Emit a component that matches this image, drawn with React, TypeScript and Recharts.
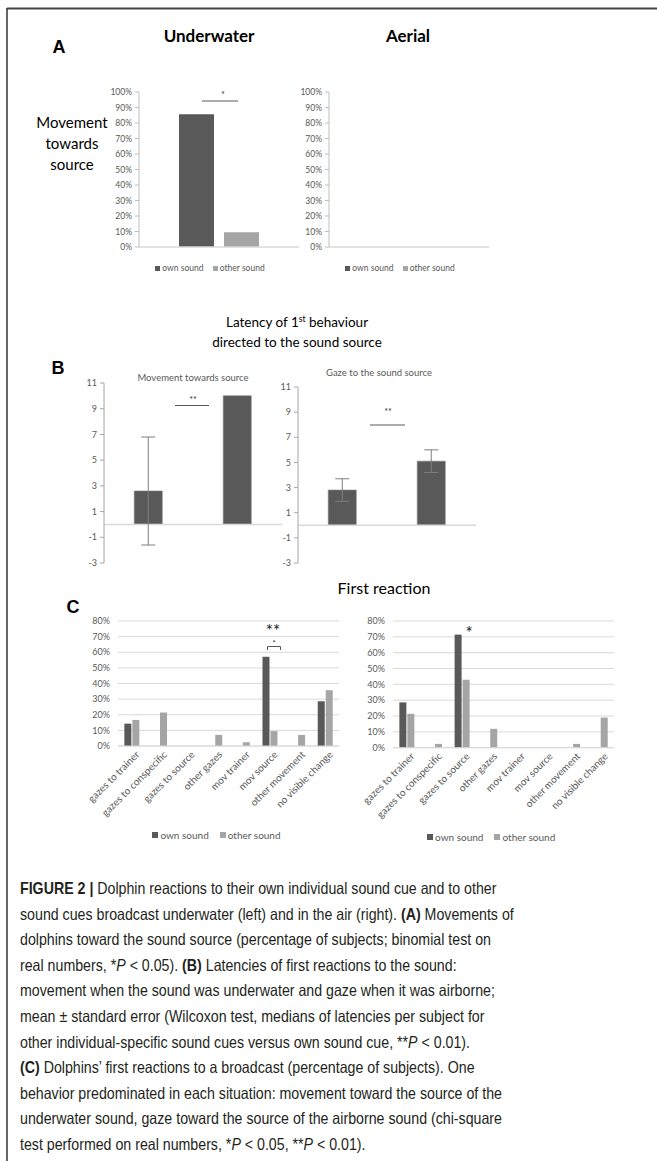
import React from 'react';
import {
  BarChart,
  Bar,
  XAxis,
  YAxis,
  CartesianGrid,
  ReferenceLine,
  ErrorBar,
  Legend,
} from 'recharts';

// series shared by panels A and C
const soundSeries = ['own sound', 'other sound'];

// Panel A: movement towards source (% of subjects)
const movementUnderwater = [85.7, 9.5];
const movementAerial = [0, 0];
const percentTicksA = [0, 10, 20, 30, 40, 50, 60, 70, 80, 90, 100];

// Panel B: latency of 1st behaviour, mean and standard error
const latencyGroups = ['own', 'other'];
const movementLatency = [2.6, 10.0];
const movementLatencyErr = [4.2, 0];
const gazeLatency = [2.8, 5.1];
const gazeLatencyErr = [0.9, 0.9];
const latencyTicks = [-3, -1, 1, 3, 5, 7, 9, 11];

// Panel C: first reaction (% of subjects)
const reactions = [
  'gazes to trainer',
  'gazes to conspecific',
  'gazes to source',
  'other gazes',
  'mov trainer',
  'mov source',
  'other movement',
  'no visible change',
];
const underwaterOwn = [14.3, 0, 0, 0, 0, 57.1, 0, 28.6];
const underwaterOther = [16.7, 21.4, 0, 7.1, 2.4, 9.5, 7.1, 35.7];
const aerialOwn = [28.6, 0, 71.4, 0, 0, 0, 0, 0];
const aerialOther = [21.4, 2.4, 42.9, 11.9, 0, 0, 2.4, 19.0];
const percentTicksC = [0, 10, 20, 30, 40, 50, 60, 70, 80];

const DARK = '#595959';
const LIGHT = '#a5a5a5';
const TEXT = '#595959';
const CHART_FONT = 'Lato, "Open Sans", sans-serif';

const pct = (v: number) => `${v}%`;

// legend like Excel's: small square + name, centred, in series order
const SoundLegend = ({ payload, fontSize, box }: any) => {
  const items = [...(payload || [])].sort(
    (a: any, b: any) => soundSeries.indexOf(a.value) - soundSeries.indexOf(b.value)
  );
  return (
    <div
      style={{
        display: 'flex',
        justifyContent: 'center',
        gap: fontSize * 1.1,
        fontSize,
        color: TEXT,
        fontFamily: CHART_FONT,
        lineHeight: 1,
      }}
    >
      {items.map((p: any) => (
        <span key={p.value} style={{ display: 'flex', alignItems: 'center' }}>
          <span
            style={{ width: box, height: box, background: p.color, marginRight: 2, display: 'inline-block' }}
          />
          {p.value}
        </span>
      ))}
    </div>
  );
};

const MovementChart = ({ values, left, top }: { values: number[]; left: number; top: number }) => {
  const data = [{ name: 'movement', own: values[0], other: values[1] }];
  return (
    <div style={{ position: 'absolute', left, top }}>
      <BarChart
        width={220}
        height={200}
        data={data}
        margin={{ top: 12, right: 10, left: 0, bottom: 33 }}
        barCategoryGap="25%"
        barGap={10}
      >
        <XAxis dataKey="name" hide />
        <YAxis
          domain={[0, 100]}
          ticks={percentTicksA}
          interval={0}
          tickFormatter={pct}
          width={50}
          axisLine={{ stroke: '#bfbfbf' }}
          tickLine={{ stroke: '#bfbfbf' }}
          tickSize={4}
          tickMargin={3}
          tick={{ fontSize: 8.5, fill: TEXT, fontFamily: CHART_FONT }}
        />
        <ReferenceLine y={0} stroke="#d9d9d9" strokeWidth={1.5} />
        <Bar dataKey="own" name={soundSeries[0]} fill={DARK} isAnimationActive={false} />
        <Bar dataKey="other" name={soundSeries[1]} fill={LIGHT} isAnimationActive={false} />
        <Legend
          verticalAlign="middle"
          wrapperStyle={{ top: 184, left: 11, width: 220 }}
          content={(p: any) => <SoundLegend payload={p.payload} fontSize={8.5} box={5} />}
        />
      </BarChart>
    </div>
  );
};

// category labels sit just under the zero line, not at the bottom of the axis
const GroupTick = ({ x, y, payload }: any) => (
  <text
    x={x}
    y={y - 25}
    textAnchor="middle"
    dominantBaseline="central"
    fontSize={9}
    fill={TEXT}
    fontFamily={CHART_FONT}
  >
    {payload.value}
  </text>
);

const LatencyChart = ({
  values,
  errs,
  left,
  top,
  height,
}: {
  values: number[];
  errs: number[];
  left: number;
  top: number;
  height: number;
}) => {
  const data = latencyGroups.map((g, i) => ({ name: g, value: values[i], err: errs[i] }));
  return (
    <div style={{ position: 'absolute', left, top }}>
      <BarChart
        width={238}
        height={height}
        data={data}
        margin={{ top: 13, right: 10, left: 0, bottom: 7 }}
        barCategoryGap="34%"
      >
        <XAxis
          dataKey="name"
          height={0}
          axisLine={false}
          tickLine={false}
          tickSize={0}
          tickMargin={0}
          interval={0}
          tick={<GroupTick />}
        />
        <YAxis
          domain={[-3, 11]}
          ticks={latencyTicks}
          interval={0}
          width={50}
          axisLine={{ stroke: '#a6a6a6' }}
          tickLine={{ stroke: '#a6a6a6' }}
          tickSize={4}
          tickMargin={3}
          tick={{ fontSize: 9, fill: TEXT, fontFamily: CHART_FONT }}
        />
        <ReferenceLine y={0} stroke="#d9d9d9" strokeWidth={1.5} />
        <Bar dataKey="value" fill={DARK} stroke="#7a7a7a" strokeWidth={0.6} isAnimationActive={false}>
          <ErrorBar dataKey="err" width={7} stroke="#7f7f7f" strokeWidth={1} />
        </Bar>
      </BarChart>
    </div>
  );
};

const ReactionTick = ({ x, y, payload }: any) => (
  <g transform={`translate(${x + 4},${y + 5})`}>
    <text
      x={0}
      y={0}
      dy={6}
      textAnchor="end"
      transform="rotate(-45)"
      fontSize={10}
      fill={TEXT}
      fontFamily={CHART_FONT}
    >
      {payload.value}
    </text>
  </g>
);

const ReactionChart = ({
  own,
  other,
  left,
  top,
  plotHeight,
}: {
  own: number[];
  other: number[];
  left: number;
  top: number;
  plotHeight: number;
}) => {
  const data = reactions.map((r, i) => ({ name: r, own: own[i], other: other[i] }));
  const width = 275;
  return (
    <div style={{ position: 'absolute', left, top }}>
      <BarChart
        width={width}
        height={10 + plotHeight + 80 + 20}
        data={data}
        margin={{ top: 10, right: 4, left: 0, bottom: 20 }}
        barCategoryGap="23%"
        barGap={1}
      >
        <CartesianGrid vertical={false} stroke="#d9d9d9" />
        <XAxis
          dataKey="name"
          height={80}
          interval={0}
          axisLine={{ stroke: '#d9d9d9' }}
          tickLine={false}
          tickSize={0}
          tickMargin={0}
          tick={<ReactionTick />}
        />
        <YAxis
          domain={[0, 80]}
          ticks={percentTicksC}
          interval={0}
          tickFormatter={pct}
          width={50}
          axisLine={false}
          tickLine={false}
          tick={{ fontSize: 9, fill: TEXT, fontFamily: CHART_FONT }}
        />
        <Bar dataKey="own" name={soundSeries[0]} fill={DARK} isAnimationActive={false} />
        <Bar dataKey="other" name={soundSeries[1]} fill={LIGHT} isAnimationActive={false} />
        <Legend
          verticalAlign="middle"
          wrapperStyle={{ top: plotHeight + 94, left: 11, width }}
          content={(p: any) => <SoundLegend payload={p.payload} fontSize={10} box={6} />}
        />
      </BarChart>
    </div>
  );
};

const Text = ({
  x,
  y,
  size,
  bold,
  color = '#000',
  font = CHART_FONT,
  children,
}: {
  x: number;
  y: number;
  size: number;
  bold?: boolean;
  color?: string;
  font?: string;
  children: React.ReactNode;
}) => (
  <div
    style={{
      position: 'absolute',
      left: x,
      top: y,
      transform: 'translate(-50%, -50%)',
      fontSize: size,
      fontWeight: bold ? 700 : 400,
      fontFamily: font,
      color,
      lineHeight: 1,
      whiteSpace: 'nowrap',
      textAlign: 'center',
    }}
  >
    {children}
  </div>
);

const Sig = () => (
  <svg
    width={657}
    height={1161}
    style={{ position: 'absolute', left: 0, top: 0, pointerEvents: 'none' }}
    fontFamily={CHART_FONT}
  >
    {/* frame */}
    <line x1={7} y1={8.5} x2={657} y2={8.5} stroke="#444" strokeWidth={2} />
    <line x1={7} y1={8} x2={7} y2={1161} stroke="#333" strokeWidth={1.5} />
    {/* A */}
    <line x1={202} y1={101} x2={238} y2={101} stroke="#595959" />
    <text x={223} y={98} textAnchor="middle" fontSize={9} fill="#333">*</text>
    {/* B */}
    <line x1={175} y1={405.5} x2={209} y2={405.5} stroke="#595959" />
    <text x={193} y={403} textAnchor="middle" fontSize={9} fill="#333">**</text>
    <line x1={370} y1={425} x2={405} y2={425} stroke="#595959" />
    <text x={388} y={415} textAnchor="middle" fontSize={9} fill="#333">**</text>
    {/* C */}
    <text x={273} y={637} textAnchor="middle" fontSize={17} fill="#222">**</text>
    <path d="M267.5,650 V646.5 H280.5 V650" fill="none" stroke="#595959" />
    <text x={274} y={646} textAnchor="middle" fontSize={7.5} fill="#333">*</text>
    <text x={469} y={639} textAnchor="middle" fontSize={17} fill="#222">*</text>
  </svg>
);

const CAPTION_FONT = '"Liberation Sans", Arial, sans-serif';

const Caption = () => {
  const P = <i>P</i>;
  return (
    <div
      style={{
        position: 'absolute',
        left: 20,
        top: 876,
        fontFamily: CAPTION_FONT,
        fontSize: 16.5,
        lineHeight: '25.6px',
        color: '#231f20',
        whiteSpace: 'nowrap',
        transform: 'scaleX(0.86)',
        transformOrigin: 'left top',
      }}
    >
      <div>
        <b>FIGURE 2 |</b> Dolphin reactions to their own individual sound cue and to other
      </div>
      <div>
        sound cues broadcast underwater (left) and in the air (right). <b>(A)</b> Movements of
      </div>
      <div>dolphins toward the sound source (percentage of subjects; binomial test on</div>
      <div>
        real numbers, *{P} &lt; 0.05). <b>(B)</b> Latencies of first reactions to the sound:
      </div>
      <div>movement when the sound was underwater and gaze when it was airborne;</div>
      <div>mean ± standard error (Wilcoxon test, medians of latencies per subject for</div>
      <div>other individual-specific sound cues versus own sound cue, **{P} &lt; 0.01).</div>
      <div>
        <b>(C)</b> Dolphins’ first reactions to a broadcast (percentage of subjects). One
      </div>
      <div>behavior predominated in each situation: movement toward the source of the</div>
      <div>underwater sound, gaze toward the source of the airborne sound (chi-square</div>
      <div>
        test performed on real numbers, *{P} &lt; 0.05, **{P} &lt; 0.01).
      </div>
    </div>
  );
};

const App = () => (
  <div
    style={{
      position: 'absolute',
      left: 0,
      top: 0,
      width: 657,
      height: 1161,
      background: '#fff',
      overflow: 'hidden',
      fontFamily: CHART_FONT,
    }}
  >
    {/* Panel A */}
    <Text x={59} y={47} size={18} bold font='"Liberation Sans", Arial, sans-serif'>A</Text>
    <Text x={209} y={35} size={17} bold>Underwater</Text>
    <Text x={408} y={35} size={17} bold>Aerial</Text>
    <div
      style={{
        position: 'absolute',
        left: 72,
        top: 143,
        transform: 'translate(-50%, -50%)',
        fontSize: 15,
        lineHeight: '21px',
        textAlign: 'center',
        whiteSpace: 'nowrap',
      }}
    >
      Movement
      <br />
      towards
      <br />
      source
    </div>
    <MovementChart values={movementUnderwater} left={89} top={80} />
    <MovementChart values={movementAerial} left={279} top={80} />

    {/* Panel B */}
    <Text x={297} y={322} size={13.5}>
      Latency of 1<sup style={{ fontSize: 8.5 }}>st</sup> behaviour
    </Text>
    <Text x={297} y={343} size={13.5}>directed to the sound source</Text>
    <Text x={58} y={368} size={18} bold font='"Liberation Sans", Arial, sans-serif'>B</Text>
    <Text x={193} y={378} size={9.5} color={TEXT}>Movement towards source</Text>
    <Text x={379} y={373} size={9.5} color={TEXT}>Gaze to the sound source</Text>
    <LatencyChart values={movementLatency} errs={movementLatencyErr} left={54} top={370} height={200} />
    <LatencyChart values={gazeLatency} errs={gazeLatencyErr} left={248} top={374} height={196} />

    {/* Panel C */}
    <Text x={384} y={588} size={16}>First reaction</Text>
    <Text x={73} y={607} size={18} bold font='"Liberation Sans", Arial, sans-serif'>C</Text>
    <ReactionChart own={underwaterOwn} other={underwaterOther} left={68} top={611} plotHeight={125} />
    <ReactionChart own={aerialOwn} other={aerialOther} left={342.7} top={611} plotHeight={126.7} />

    <Sig />
    <Caption />
  </div>
);

export default App;
